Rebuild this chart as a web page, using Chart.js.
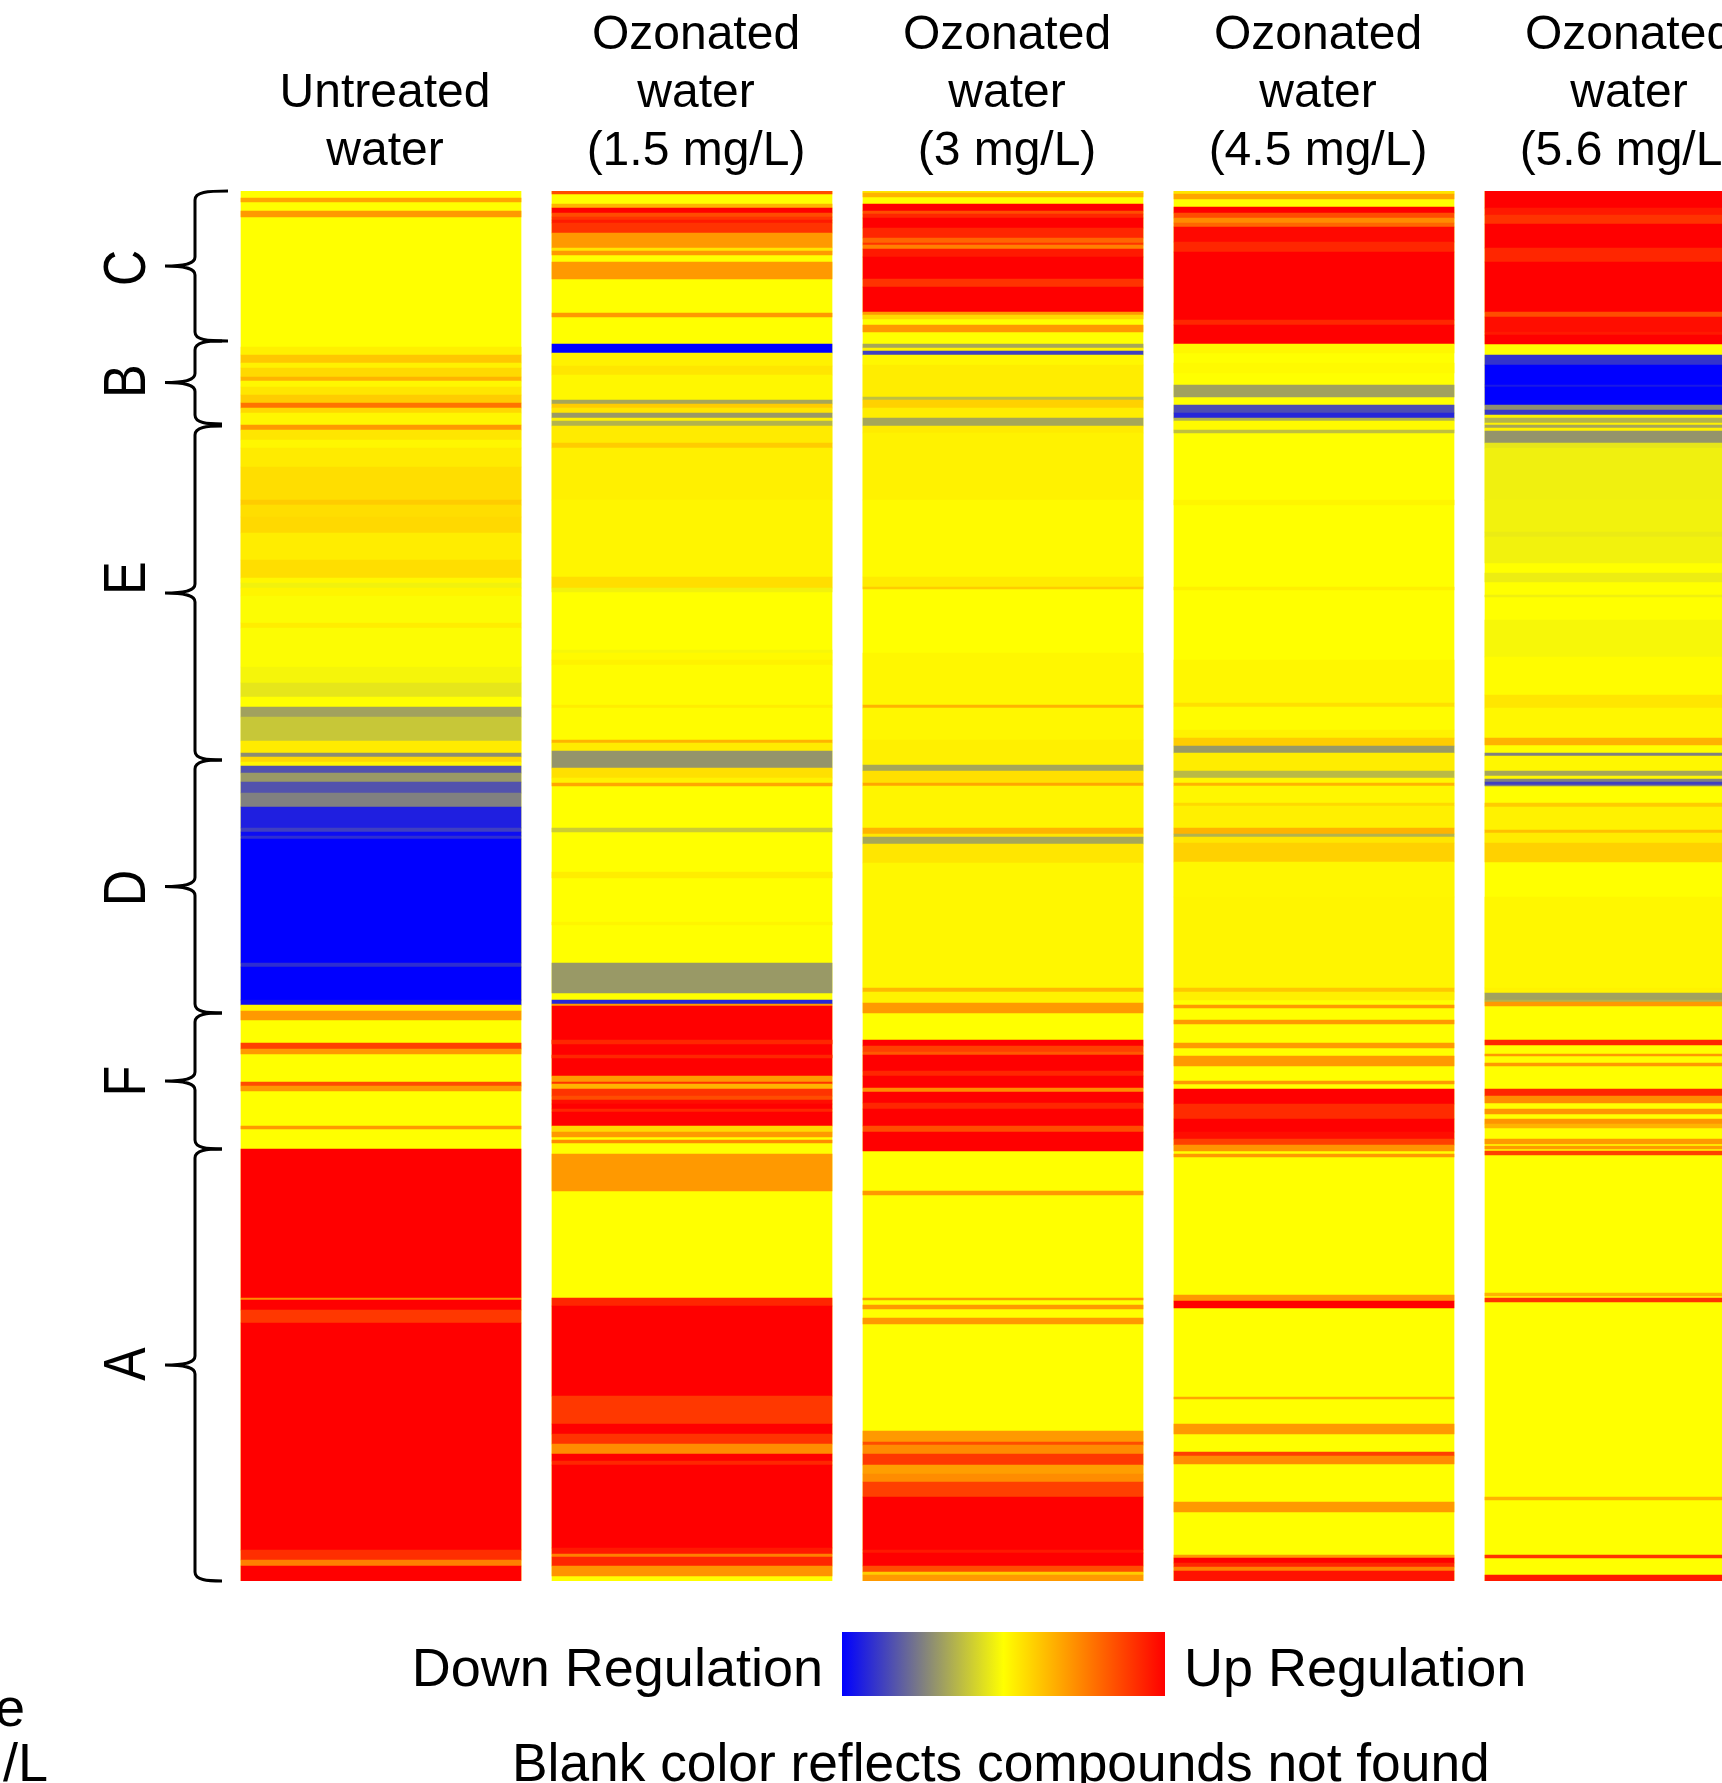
<!DOCTYPE html>
<html>
<head>
<meta charset="utf-8">
<title>Heat map</title>
<script src="https://cdn.jsdelivr.net/npm/chart.js@4/dist/chart.umd.min.js"></script>
<style>
  html, body { margin: 0; padding: 0; background: #fff; overflow: hidden; }
  canvas { display: block; }
</style>
</head>
<body>
<canvas id="heatmap" width="1722" height="1783"></canvas>
<script>
// column titles
const columnTitles = [
    ['Untreated', 'water'],
    ['Ozonated', 'water', '(1.5 mg/L)'],
    ['Ozonated', 'water', '(3 mg/L)'],
    ['Ozonated', 'water', '(4.5 mg/L)'],
    ['Ozonated', 'water', '(5.6 mg/L)']
];

// compound clusters, rows from the top of the map
const clusterNames = ['C', 'B', 'E', 'D', 'F', 'A'];
const clusterFrom = [0, 150, 235, 569, 822, 958];
const clusterTo = [150, 233, 569, 822, 958, 1390];
const clusterLabelRow = [77, 190, 387, 697, 890, 1173];
const totalRows = 1390;

// bands: [from row, to row, regulation -1..1], rows not listed are 0 (yellow)
const untreated = [
    [7,11,.35],[20,26,.4],[156,164,.06],[164,172,.22],[172,177,.05],[177,186,.15],[186,190,.3],[190,196,.03],
    [196,204,.1],[204,212,.2],[212,217,.55],[217,222,.15],[222,234,.03],[234,239,.4],[239,249,.1],[249,257,.03],
    [257,276,.08],[276,309,.13],[309,314,.2],[314,326,.13],[326,342,.15],[342,369,.07],[369,387,.13],[387,392,.03],
    [392,397,-.05],[397,405,.04],[405,432,-.01],[432,437,.07],[437,476,-.01],[476,492,-.04],[492,506,-.1],[506,516,0],
    [516,526,-.37],[526,550,-.22],[550,562,.08],[562,566,-.45],[566,571,.15],[571,575,.04],[575,582,-.68],[582,591,-.4],
    [591,602,-.68],[602,616,-.5],[616,637,-.88],[637,641,-.75],[641,645,-.95],[645,648,-.82],[648,772,-1],[772,776,-.82],
    [776,809,-1],[809,814,-.95],[814,820,.03],[820,829,.4],[852,858,.75],[858,863,.4],[891,895,.7],[895,900,.4],
    [935,938,.4],[958,1107,1],[1107,1109,.45],[1109,1119,1],[1119,1132,.78],[1132,1359,1],[1359,1369,.82],[1369,1375,.5],
    [1375,1390,1]
];
const ozone15 = [
    [0,3,.7],[13,17,.3],[17,22,1],[22,26,.7],[26,29,.8],[29,32,.9],[32,42,.8],[42,57,.4],[57,60,.1],[60,64,.4],
    [71,88,.4],[122,126,.4],[153,162,-1],[162,175,.05],[175,184,.1],[184,209,.03],[209,213,-.35],[213,217,.2],[217,222,.1],
    [222,227,-.4],[227,230,.05],[230,235,-.3],[235,252,.08],[252,257,.2],[257,309,.06],[309,386,.04],[386,397,.13],
    [397,401,-.05],[459,462,-.03],[462,469,.02],[469,474,.05],[474,514,.01],[514,517,.07],[517,549,.01],[549,552,.3],
    [552,560,.08],[560,577,-.42],[577,587,.12],[587,592,.05],[592,595,.35],[637,641,-.2],[681,687,.07],[731,734,.04],
    [772,802,-.4],[809,813,-.85],[813,815,.4],[815,885,1],[849,853,.85],[864,867,.85],[885,891,.4],[891,893,.8],[893,898,.3],
    [898,905,.8],[905,909,.7],[909,913,.95],[913,918,1],[918,921,.85],[921,935,1],[935,941,.15],[941,946,.4],[949,952,.45],
    [963,1000,.4],[1107,1115,.85],[1115,1205,1],[1205,1233,.78],[1233,1243,1],[1243,1253,.8],[1253,1263,.45],[1263,1270,1],
    [1270,1274,.85],[1274,1357,1],[1357,1363,.9],[1363,1366,.5],[1366,1375,.85],[1375,1385,.42]
];
const ozone30 = [
    [0,2,.1],[2,6,.3],[13,20,1],[20,23,.7],[23,27,.85],[27,37,1],[37,47,.85],[47,52,.6],[52,54,.8],[54,58,.5],[58,66,.9],
    [66,88,1],[88,96,.8],[96,121,1],[121,124,.4],[124,128,.15],[134,141,.4],[153,157,-.35],[157,160,.05],[160,164,-.75],
    [164,174,.03],[174,206,.07],[206,209,-.25],[209,217,.18],[217,227,.07],[227,235,-.35],[235,242,.08],[242,309,.05],
    [309,386,.02],[386,396,.08],[396,398,.2],[462,514,.03],[514,517,.3],[517,549,.03],[549,574,.06],[574,580,-.35],
    [580,592,.12],[592,595,.35],[595,637,.04],[637,643,.3],[643,646,.1],[646,653,-.35],[653,672,.1],[672,797,.03],
    [797,801,.28],[801,812,.05],[812,822,.4],[849,855,1],[855,861,.75],[861,864,.65],[864,880,1],[880,885,.85],[885,897,1],
    [897,901,.45],[901,912,1],[912,918,.85],[918,935,1],[935,941,.7],[941,960,1],[1000,1004,.4],[1107,1109,.4],[1114,1118,.4],
    [1127,1133,.4],[1240,1251,.4],[1251,1254,.7],[1254,1263,.45],[1263,1274,.78],[1274,1283,.38],[1283,1291,.45],[1291,1306,.75],
    [1306,1359,1],[1359,1362,.9],[1362,1375,1],[1375,1381,.7],[1381,1384,.2],[1384,1390,.4]
];
const ozone45 = [
    [0,3,.1],[3,8,.35],[16,22,1],[22,27,.7],[27,32,.45],[32,36,.6],[36,51,.97],[51,61,.85],[61,129,1],[129,134,.85],[134,153,1],
    [153,162,.03],[172,182,.02],[194,206,-.37],[214,222,-.7],[222,227,-.85],[227,230,-.3],[230,239,.02],[239,242,-.25],
    [309,314,.04],[396,399,.06],[469,512,.03],[512,516,.12],[516,539,.01],[539,547,.05],[547,555,.2],[555,562,-.4],[562,580,.07],
    [580,587,-.27],[587,592,.03],[592,595,.3],[595,612,.03],[612,615,.15],[615,637,.06],[637,643,.3],[643,646,-.3],[646,652,.1],
    [652,671,.18],[671,706,.03],[706,797,.04],[797,801,.22],[801,809,.06],[814,817,.4],[829,833,.4],[852,857,.4],[865,875,.4],
    [890,893,.4],[898,913,1],[913,928,.83],[928,941,1],[941,948,.95],[948,954,.75],[954,960,.42],[963,966,.4],[1104,1110,.4],
    [1110,1117,1],[1206,1208,.35],[1233,1243,.4],[1261,1265,.75],[1265,1273,.45],[1311,1321,.4],[1364,1367,.4],[1367,1372,1],
    [1372,1376,.85],[1376,1380,.5],[1380,1390,.93]
];
const ozone56 = [
    [0,17,1],[17,24,.9],[24,33,.8],[33,57,1],[57,71,.85],[71,121,1],[121,126,.7],[126,141,.95],[141,144,.9],[144,153,1],
    [164,174,-.8],[174,194,-1],[194,196,-.9],[196,214,-1],[214,219,-.45],[219,224,-.78],[224,227,.05],[227,232,-.3],[232,234,.05],
    [234,237,-.35],[237,240,.05],[240,252,-.42],[252,257,-.1],[257,309,-.06],[309,341,-.05],[341,346,-.08],[346,372,-.05],
    [382,391,-.07],[404,406,-.06],[429,466,-.03],[466,504,.01],[504,517,.1],[517,547,.03],[547,554,.3],[562,565,-.5],[565,580,.03],
    [580,585,-.35],[585,588,.03],[588,591,-.5],[591,594,-.75],[594,595,-.5],[612,616,.2],[616,639,.05],[639,642,.25],[642,652,.08],
    [652,671,.18],[706,797,.03],[797,802,.05],[802,809,-.37],[809,811,-.3],[811,815,.4],[849,854,.85],[863,865,.4],[872,875,.4],
    [898,905,.85],[905,912,.45],[918,923,.42],[928,933,.42],[933,937,.3],[948,953,.4],[955,958,.4],[960,964,.75],[1102,1105,.3],
    [1107,1111,.8],[1306,1309,.3],[1364,1367,.8],[1384,1390,.9]
];
const columnBands = [untreated, ozone15, ozone30, ozone45, ozone56];

// colour key
const keyStops = [-1, -0.5, 0, 0.5, 1];
const keyLow = 'Down Regulation';
const keyHigh = 'Up Regulation';
const keyNote = 'Blank color reflects compounds not found';

const FONT = '"Liberation Sans", Arial, sans-serif';

function regulationColor(v) {
    if (v < 0) {
        const t = -v;
        return `rgb(${Math.round(255 * (1 - t))},${Math.round(255 * (1 - t))},${Math.round(255 * t)})`;
    }
    return `rgb(255,${Math.round(255 * (1 - v))},0)`;
}

function drawBrace(ctx, x, top, bottom, endX, tipX) {
    const mid = (top + bottom) / 2;
    ctx.beginPath();
    ctx.moveTo(endX, top);
    ctx.bezierCurveTo(x + 12, top, x, top + 1, x, top + 9);
    ctx.lineTo(x, mid - 9);
    ctx.bezierCurveTo(x, mid - 3, x - 8, mid, tipX, mid);
    ctx.bezierCurveTo(x - 8, mid, x, mid + 3, x, mid + 9);
    ctx.lineTo(x, bottom - 9);
    ctx.bezierCurveTo(x, bottom - 1, x + 12, bottom, endX, bottom);
    ctx.stroke();
}

// braces, cluster letters and the colour key around the map
const annotations = {
    id: 'annotations',
    afterDraw(chart) {
        const ctx = chart.ctx;
        const y = chart.scales.y;

        ctx.save();
        ctx.strokeStyle = '#000';
        ctx.fillStyle = '#000';
        ctx.lineWidth = 3;
        clusterNames.forEach((name, i) => {
            const top = y.getPixelForValue(clusterFrom[i]);
            const bottom = y.getPixelForValue(clusterTo[i]);
            drawBrace(ctx, 195, top, bottom, i === 0 ? 228 : 222, 165);

            ctx.save();
            ctx.translate(144.5, y.getPixelForValue(clusterLabelRow[i]));
            ctx.rotate(-Math.PI / 2);
            ctx.scale(1, 1.17);
            ctx.font = `50px ${FONT}`;
            ctx.textAlign = 'center';
            ctx.textBaseline = 'alphabetic';
            ctx.fillText(name, 0, 0);
            ctx.restore();
        });

        const keyLeft = 842, keyRight = 1165, keyTop = 1632, keyBottom = 1696;
        const grad = ctx.createLinearGradient(keyLeft, 0, keyRight, 0);
        keyStops.forEach((v, i) => grad.addColorStop(i / (keyStops.length - 1), regulationColor(v)));
        ctx.fillStyle = grad;
        ctx.fillRect(keyLeft, keyTop, keyRight - keyLeft, keyBottom - keyTop);

        ctx.fillStyle = '#000';
        ctx.font = `54px ${FONT}`;
        ctx.textBaseline = 'alphabetic';
        ctx.textAlign = 'right';
        ctx.fillText(keyLow, 823, 1686);
        ctx.fillText('e', 25, 1726);
        ctx.fillText('mg/L', 48, 1781);
        ctx.textAlign = 'left';
        ctx.fillText(keyHigh, 1184, 1686);
        ctx.font = `53.3px ${FONT}`;
        ctx.fillText(keyNote, 512, 1781);
        ctx.restore();
    }
};

new Chart(document.getElementById('heatmap'), {
    type: 'bar',
    data: {
        datasets: columnBands.map((bands, col) => {
            const rows = [[0, totalRows, 0], ...bands];
            return {
                label: columnTitles[col].join(' '),
                data: rows.map(b => ({ x: col, y: [b[0], b[1]] })),
                backgroundColor: rows.map(b => regulationColor(b[2])),
                barThickness: 280,
                grouped: false,
                borderWidth: 0
            };
        })
    },
    options: {
        responsive: false,
        animation: false,
        devicePixelRatio: 1,
        layout: { padding: { top: 0, right: 0, bottom: 202, left: 0 } },
        plugins: { legend: { display: false }, tooltip: { enabled: false } },
        scales: {
            x: {
                type: 'linear',
                position: 'top',
                offset: false,
                min: -1.2251,
                max: 4.3119,
                grid: { display: false, drawTicks: false },
                border: { display: false },
                afterBuildTicks: scale => { scale.ticks = columnTitles.map((_, i) => ({ value: i })); },
                afterFit: scale => { scale.height = 191; scale.paddingLeft = 0; scale.paddingRight = 0; },
                ticks: {
                    autoSkip: false,
                    maxRotation: 0,
                    padding: 10,
                    labelOffset: 4,
                    color: '#000',
                    font: { family: FONT, size: 48, lineHeight: 58 / 48 },
                    callback: value => columnTitles[value]
                }
            },
            y: { display: false, reverse: true, min: 0, max: totalRows }
        }
    },
    plugins: [annotations]
});
</script>
</body>
</html>
